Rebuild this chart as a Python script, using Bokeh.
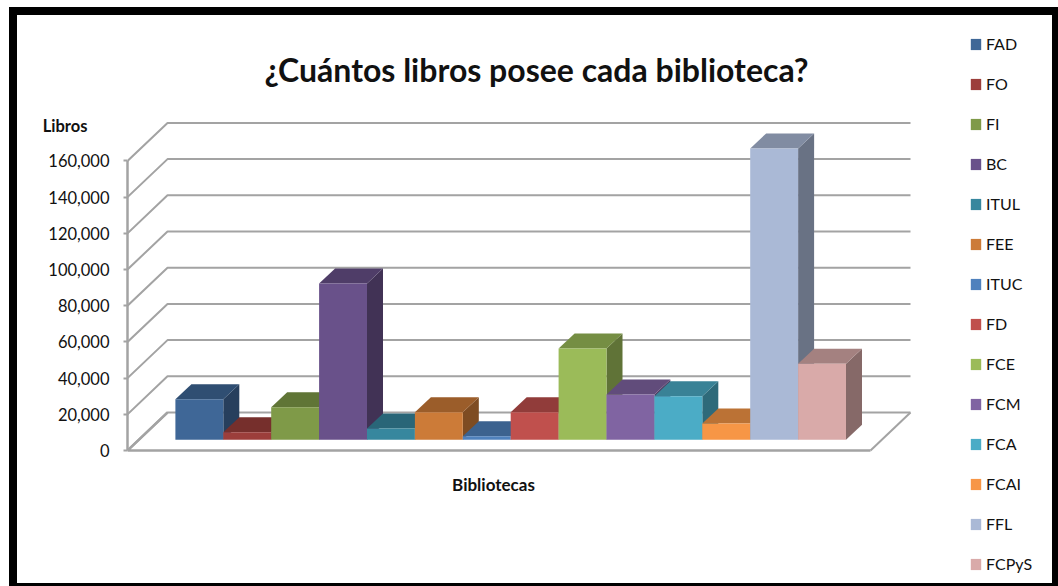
from bokeh.plotting import figure
from bokeh.embed import file_html
from bokeh.resources import INLINE
from bokeh.models import (FixedTicker, InlineStyleSheet, Label, Legend, LegendItem,
                          LinearAxis, NumeralTickFormatter, Range1d)

categories = ["FAD", "FO", "FI", "BC", "ITUL", "FEE", "ITUC", "FD", "FCE", "FCM", "FCA", "FCAI", "FFL", "FCPyS"]
libros = [22400, 4200, 18000, 86300, 6200, 15200, 2000, 15200, 50400, 25000, 24000, 9000, 161000, 42000]
colores = ["#3F6797", "#9C3E3B", "#7F9A48", "#69518A", "#37879E", "#CC7B38", "#4F81BD",
           "#C0504D", "#9BBB59", "#8064A2", "#4BACC6", "#F79646", "#AAB9D6", "#D9AAA9"]
y_ticks = [0, 20000, 40000, 60000, 80000, 100000, 120000, 140000, 160000]
titulo = "¿Cuántos libros posee cada biblioteca?"
y_titulo = "Libros"
x_titulo = "Bibliotecas"
FONT = "Lato"

W, H = 1058, 586
AXIS_PX = 127
ZERO_PY = 450
PX_X = 47.9
PX_Y = 1.81 / 1000
X0 = -1.5
x_range = Range1d(X0, X0 + (W - AXIS_PX) / PX_X)
y_range = Range1d(-(H - ZERO_PY) / PX_Y, ZERO_PY / PX_Y)

p = figure(width=W, height=H, output_backend="svg", toolbar_location=None,
           x_range=x_range, y_range=y_range, x_axis_type=None, y_axis_type=None,
           min_border_left=AXIS_PX, min_border_right=0, min_border_top=0, min_border_bottom=0)
p.outline_line_color = None
p.grid.visible = False
p.stylesheets = [InlineStyleSheet(css=""":host::after {content:""; position:absolute; left:9px; top:7px; right:0; bottom:0;
 box-sizing:border-box; border-style:solid; border-color:black; border-width:8px 6px 3px 8px; pointer-events:none; z-index:50;}""")]

GRAY = "#a3a3a3"
WALL_DX, WALL_DY = 40 / PX_X, 38 / PX_Y
BAR_DX, BAR_DY = 16 / PX_X, 15 / PX_Y
FLOOR_W = 743 / PX_X
BASE = 10.7 / PX_Y


def shade(c, f):
    return "#%02x%02x%02x" % tuple(int(int(c[i:i + 2], 16) * f) for i in (1, 3, 5))


for v in y_ticks:
    p.line([X0, X0 + WALL_DX, X0 + WALL_DX + FLOOR_W], [v, v + WALL_DY, v + WALL_DY], line_color=GRAY, line_width=2)
p.line([X0 + FLOOR_W, X0, X0 + WALL_DX], [0, 0, WALL_DY], line_color=GRAY, line_width=2.5)
p.line([X0 + WALL_DX + FLOOR_W, X0 + FLOOR_W], [WALL_DY, 0], line_color=GRAY, line_width=2)

items = []
for i, (c, v, col) in enumerate(zip(categories, libros, colores)):
    l, r = i - 0.5, i + 0.5
    top = BASE + v
    p.patch([r, r + BAR_DX, r + BAR_DX, r], [BASE, BASE + BAR_DY, top + BAR_DY, top],
            fill_color=shade(col, 0.62), line_color=None)
    p.patch([l, r, r + BAR_DX, l + BAR_DX], [top, top, top + BAR_DY, top + BAR_DY],
            fill_color=shade(col, 0.76), line_color=None)
    front = p.vbar(x=[i], width=1, bottom=[BASE], top=[top], fill_color=col, line_color=None)
    items.append(LegendItem(label=c, renderers=[front]))

axis = LinearAxis(ticker=FixedTicker(ticks=y_ticks), formatter=NumeralTickFormatter(format="0,0"),
                  bounds=(0, 160000))
axis.axis_line_color = GRAY
axis.axis_line_width = 2.5
axis.major_tick_line_color = GRAY
axis.major_tick_line_width = 2
axis.major_tick_in = 0
axis.major_tick_out = 4
axis.minor_tick_line_color = None
axis.major_label_text_font = FONT
axis.major_label_text_font_size = "16.5px"
axis.major_label_text_color = "#111111"
axis.major_label_standoff = 14
p.add_layout(axis, "left")

# The y title sits above the tick labels, outside the plot area: a second axis with a single labelled position
pos_titulo = int((ZERO_PY - 125) / PX_Y)
eje_titulo = LinearAxis(ticker=FixedTicker(ticks=[pos_titulo]), major_label_overrides={pos_titulo: y_titulo})
eje_titulo.axis_line_color = None
eje_titulo.major_tick_line_color = None
eje_titulo.minor_tick_line_color = None
eje_titulo.major_tick_in = 0
eje_titulo.major_tick_out = 0
eje_titulo.major_label_text_font = FONT
eje_titulo.major_label_text_font_size = "16.5px"
eje_titulo.major_label_text_font_style = "bold"
eje_titulo.major_label_text_color = "#111111"
eje_titulo.major_label_standoff = -42
p.add_layout(eje_titulo, "left")

legend = Legend(items=items, location=(842, H - 20 - 554), orientation="vertical",
                background_fill_alpha=0, border_line_color=None, margin=0, padding=8,
                spacing=19, label_height=21, glyph_width=13, glyph_height=14, label_standoff=4,
                label_text_font=FONT, label_text_font_size="16px",
                label_text_color="#111111")
p.add_layout(legend)


def label(px, py, text, size, style="bold", align="center"):
    p.add_layout(Label(x=px - AXIS_PX, y=H - py, x_units="screen", y_units="screen", text=text,
                       text_font=FONT, text_font_size=size, text_font_style=style, text_color="#111111",
                       text_align=align, text_baseline="middle"))


label(536, 69, titulo, "32px")
label(493, 484, x_titulo, "17px")

open("out.html", "w").write(file_html(p, INLINE))
